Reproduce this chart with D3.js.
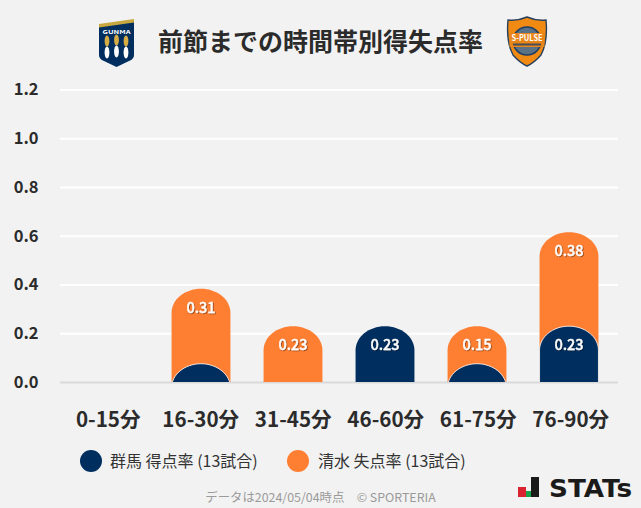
<!DOCTYPE html>
<html><head><meta charset="utf-8">
<script src="https://cdn.jsdelivr.net/npm/d3@7"></script>
<style>
html,body{margin:0;padding:0;background:#f2f2f2;}
svg{display:block;font-family:"Noto Sans CJK JP","Noto Sans",sans-serif;}
</style></head><body>
<svg id="c" width="641" height="508"></svg>
<script>
const categories=["0-15分","16-30分","31-45分","46-60分","61-75分","76-90分"];
const gunmaValues=[0,0.077,0,0.231,0.077,0.231];
const shimizuValues=[0,0.308,0.231,0,0.154,0.385];
const gunmaLabels=["","","","0.23","","0.23"];
const shimizuLabels=["","0.31","0.23","","0.15","0.38"];
const yTicks=[0,0.2,0.4,0.6,0.8,1.0,1.2];
const title="前節までの時間帯別得失点率";
const legendNames=["群馬 得点率 (13試合)","清水 失点率 (13試合)"];
const footer="データは2024/05/04時点　© SPORTERIA";
const NAVY="#002f5f",ORANGE="#ff7f32";

const svg=d3.select("#c");
const x=d3.scaleBand().domain(categories).range([63,615]).paddingInner(0.36).paddingOuter(0.18);
const xLabel=d3.scaleBand().domain(categories).range([62,617]).paddingInner(0.36).paddingOuter(0.18);
const y=d3.scaleLinear().domain([0,1.2]).range([382.5,90]);
const defs=svg.append("defs");
defs.append("clipPath").attr("id","plot").append("rect").attr("x",0).attr("y",0).attr("width",641).attr("height",382);
const f=defs.append("filter").attr("id","ts").attr("x","-20%").attr("y","-20%").attr("width","150%").attr("height","150%");
f.append("feDropShadow").attr("dx",0.8).attr("dy",0.8).attr("stdDeviation",0.3).attr("flood-color","#000").attr("flood-opacity",0.5);

// grid
svg.append("g").selectAll("line").data(yTicks.slice(1)).join("line")
 .attr("x1",60).attr("x2",618).attr("y1",d=>y(d)).attr("y2",d=>y(d))
 .attr("stroke","#fff").attr("stroke-width",2);
svg.append("line").attr("x1",60).attr("x2",618).attr("y1",y(0)).attr("y2",y(0)).attr("stroke","#d9d9d9").attr("stroke-width",2);

// y axis
const yAxis=svg.append("g").attr("transform","translate(38.5,-1)").call(d3.axisLeft(y).tickValues(yTicks).tickFormat(d3.format(".1f")).tickSize(0).tickPadding(0));
yAxis.select(".domain").remove();
yAxis.selectAll("text").attr("font-size",16.5).attr("font-weight",700).attr("fill","#2b2b2b").attr("font-family",'"Noto Sans CJK JP"').attr("dy","0.36em");
// x axis
const xAxis=svg.append("g").attr("transform","translate(0,420)").call(d3.axisBottom(xLabel).tickSize(0).tickPadding(0));
xAxis.select(".domain").remove();
xAxis.selectAll("text").attr("font-size",20.6).attr("font-weight",700).attr("fill","#2b2b2b").attr("font-family",'"Noto Sans CJK JP"').attr("dy","0.36em").attr("y",0);

function roundTop(x0,w,yTop,yBase){
  const rx=w/2,ry=24;
  const p=d3.path();
  p.moveTo(x0,yBase+2);
  p.lineTo(x0,yTop+ry);
  p.bezierCurveTo(x0,yTop+ry*0.45,x0+rx*0.45,yTop,x0+rx,yTop);
  p.bezierCurveTo(x0+w-rx*0.45,yTop,x0+w,yTop+ry*0.45,x0+w,yTop+ry);
  p.lineTo(x0+w,yBase+2);
  p.closePath();
  return p.toString();
}
const bars=svg.append("g").attr("clip-path","url(#plot)");
categories.forEach((c,i)=>{
  const g=gunmaValues[i],s=shimizuValues[i];
  if(s>0){
    bars.append("path").attr("d",roundTop(x(c),x.bandwidth(),y(g+s),y(0))).attr("fill",ORANGE);
  }
  if(g>0){
    bars.append("path").attr("d",roundTop(x(c),x.bandwidth(),y(g),y(0))).attr("fill",NAVY)
      .attr("stroke",s>0?"#fff":"none").attr("stroke-opacity",0.8).attr("stroke-width",1);
  }
});
// value labels
const labs=svg.append("g").attr("text-anchor","middle").attr("font-size",14.5).attr("font-weight",500).attr("fill","#fff").attr("stroke","#fff").attr("stroke-width",0.3).attr("filter","url(#ts)");
categories.forEach((c,i)=>{
  const cx=x(c)+x.bandwidth()/2;
  if(shimizuLabels[i]) labs.append("text").attr("x",cx).attr("y",y(gunmaValues[i]+shimizuValues[i])+24).text(shimizuLabels[i]);
  if(gunmaLabels[i]) labs.append("text").attr("x",cx).attr("y",y(gunmaValues[i])+23.5).text(gunmaLabels[i]);
});

// title
svg.append("text").attr("x",320.5).attr("y",50.5).attr("text-anchor","middle").attr("font-size",25).attr("font-weight",700).attr("fill","#2b2b2b").text(title);

// legend
const lg=svg.append("g");
[[91,110,NAVY],[298,318,ORANGE]].forEach((a,i)=>{
  lg.append("circle").attr("cx",a[0]).attr("cy",461).attr("r",11).attr("fill",a[2]);
  lg.append("text").attr("x",a[1]).attr("y",466.5).attr("font-size",16).attr("fill","#333").text(legendNames[i]);
});
// footer
svg.append("text").attr("x",320.5).attr("y",502).attr("text-anchor","middle").attr("font-size",12.4).attr("fill","#9a9a9a").text(footer);

// Gunma crest
const gc=svg.append("g").attr("transform","translate(99,20)");
gc.append("path").attr("d","M0,5 L35,0 L35,35 Q35,39 30,41 L17.5,47 L5,41 Q0,39 0,35Z").attr("fill",NAVY);
gc.append("path").attr("d","M0,4 L35,-1 L35,2.5 L0,7.5Z").attr("fill","#c8a640");
gc.append("text").attr("x",17.5).attr("y",13.5).attr("text-anchor","middle").attr("font-size",5.2).attr("font-weight",700).attr("fill","#fff").attr("textLength",28).attr("lengthAdjust","spacingAndGlyphs").text("GUNMA");
[[8,17],[17.5,16],[27,17]].forEach(p=>{
  gc.append("ellipse").attr("cx",p[0]).attr("cy",p[1]+4).attr("rx",2.4).attr("ry",5.5).attr("fill","#d6ad45");
  gc.append("ellipse").attr("cx",p[0]).attr("cy",p[1]+15.5).attr("rx",2.4).attr("ry",6).attr("fill","#fff");
});
// Shimizu crest
const sc=svg.append("g").attr("transform","translate(508,17)");
sc.append("path").attr("d","M19,0 Q28,4 38,3 Q40,25 33,38 Q26,46 19,49 Q12,46 5,38 Q-2,25 0,3 Q10,4 19,0Z").attr("fill","#f08a12").attr("stroke","#27405f").attr("stroke-width",1.4);
sc.append("circle").attr("cx",19).attr("cy",24).attr("r",14).attr("fill","#5a7186").attr("stroke","#1f3f66").attr("stroke-width",1.5);
sc.append("rect").attr("x",1.5).attr("y",16).attr("width",35).attr("height",14).attr("fill","#e9861a");
sc.append("text").attr("x",19).attr("y",24).attr("text-anchor","middle").attr("font-size",8.5).attr("font-weight",700).attr("fill","#fff").attr("textLength",31).attr("lengthAdjust","spacingAndGlyphs").text("S-PULSE");
sc.append("rect").attr("x",5).attr("y",26.5).attr("width",28).attr("height",2).attr("fill","#1f3f66").attr("opacity",0.8);

// STATS logo
const st=svg.append("g");
st.append("rect").attr("x",518).attr("y",487).attr("width",8).attr("height",10).attr("fill","#d9232e");
st.append("rect").attr("x",526).attr("y",491).attr("width",5).attr("height",6).attr("fill","#16a34a");
st.append("rect").attr("x",531).attr("y",477).attr("width",8).attr("height",20).attr("fill","#1a1a1a");
st.append("text").attr("x",549).attr("y",497).attr("font-family","'DejaVu Sans'").attr("font-size",24).attr("font-weight",700).attr("fill","#1a1a1a").attr("textLength",83).attr("lengthAdjust","spacingAndGlyphs").text("STATs");
</script></body></html>
